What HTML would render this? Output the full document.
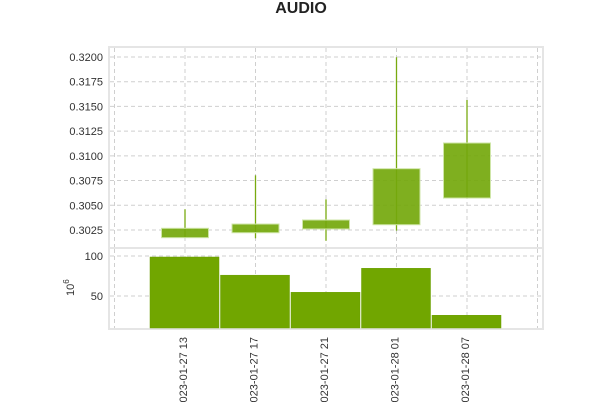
<!DOCTYPE html>
<html><head><meta charset="utf-8"><style>
body{margin:0;background:#fff;}
svg{display:block;font-family:"Liberation Sans",sans-serif;}
</style></head><body>
<svg id="c" width="603" height="402" viewBox="0 0 603 402">
<text x="301" y="13" text-anchor="middle" font-size="16" font-weight="bold" fill="#222">AUDIO</text>
<g id="g"></g>
</svg>
<script>
const categories=["2023-01-27 13","2023-01-27 17","2023-01-27 21","2023-01-28 01","2023-01-28 07"];
const opens=[0.30172,0.30222,0.30260,0.30303,0.30573];
const closes=[0.30267,0.30310,0.30351,0.30870,0.31130];
const highs=[0.30459,0.30803,0.30560,0.31997,0.31565];
const lows=[0.30172,0.30166,0.30141,0.30243,0.30573];
const volumes=[98.75,76,54.6,84.6,25.9];
const priceTicks=[0.3025,0.3050,0.3075,0.3100,0.3125,0.3150,0.3175,0.3200];
const volTicks=[50,100];
const NS="http://www.w3.org/2000/svg";
const g=document.getElementById('g');
function mk(t,a,p){const e=document.createElementNS(NS,t);for(const k in a)e.setAttribute(k,a[k]);(p||g).appendChild(e);return e;}
const L=109,R=543,T1=47,B1=248,T2=248,B2=329;
const x=i=>185+i*70.5;
const yP=v=>57+(0.3200-v)/0.0025*24.71;
const yV=v=>256+(100-v)*0.8;
const p1=mk('rect',{x:L,y:T1,width:R-L,height:B1-T1,fill:'#fff',stroke:'#e5e5e5','stroke-width':2});

const p2=mk('rect',{x:L,y:T2,width:R-L,height:B2-T2,fill:'#fff',stroke:'#e5e5e5','stroke-width':2});

const grid='#cfcfcf';
for(let i=-1;i<=5;i++){
 [[T1+1,B1-1],[T2+1,B2-1]].forEach(r=>{
  const l=mk('line',{x1:x(i),x2:x(i),y1:r[0],y2:r[1],stroke:grid,'stroke-dasharray':'4,3'});
  
 });
}
priceTicks.forEach(v=>{
 const y=yP(v);
 const l=mk('line',{x1:L+1,x2:R-1,y1:y,y2:y,stroke:grid,'stroke-dasharray':'4,3'});
 
 const t=mk('text',{x:L-6,y:y+4,'text-anchor':'end','font-size':11,fill:'#333'});t.textContent=v.toFixed(4);
 
});
volTicks.forEach(v=>{
 const y=yV(v);
 const l=mk('line',{x1:L+1,x2:R-1,y1:y,y2:y,stroke:grid,'stroke-dasharray':'4,3'});
 
 const t=mk('text',{x:L-6,y:y+4,'text-anchor':'end','font-size':11,fill:'#333'});t.textContent=v;
 
});
const yl=mk('text',{x:0,y:0,'font-size':11,fill:'#333',transform:'translate(74,296) rotate(-90)'});
yl.innerHTML='10<tspan dy="-5" font-size="8">6</tspan>';

categories.forEach((c,i)=>{
 const cx=x(i);
 const w=mk('line',{x1:cx,x2:cx,y1:yP(highs[i]),y2:yP(lows[i]),stroke:'#78aa10','stroke-width':1.3});
 
 const top=yP(Math.max(opens[i],closes[i])),bot=yP(Math.min(opens[i],closes[i]));
 const b=mk('rect',{x:cx-23.5,y:top,width:47,height:bot-top,fill:'#74a80c','fill-opacity':0.92,stroke:'#cfe6a8','stroke-width':1});
 
 const v=mk('rect',{x:cx-35,y:yV(volumes[i]),width:69,height:B2-1-yV(volumes[i]),fill:'#71a600',stroke:'#6a9e00','stroke-width':0.5});
 
 const t=mk('text',{x:0,y:0,'text-anchor':'end','font-size':11,fill:'#333',transform:`translate(${cx+2},337) rotate(-90)`});
 t.textContent=c;
 
});
</script>
</body></html>
